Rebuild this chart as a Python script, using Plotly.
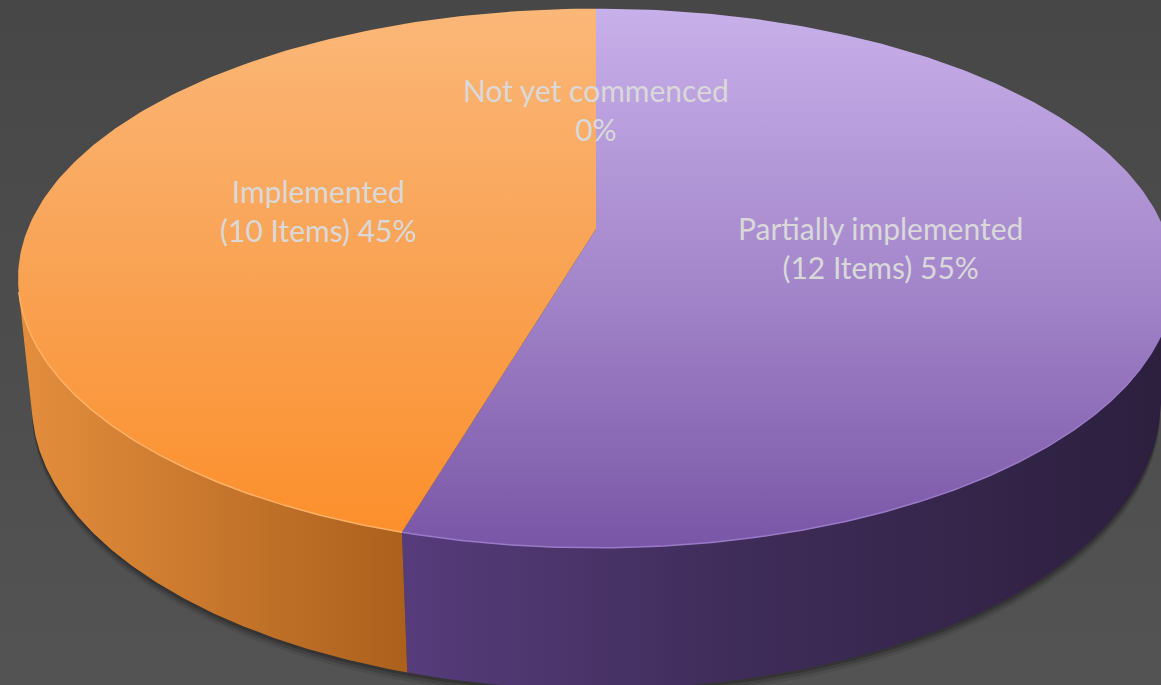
import numpy as np
import plotly.graph_objects as go

# ---------------- data ----------------
labels = ["Not yet commenced", "Partially implemented", "Implemented"]
items = [0, 12, 10]
show_items = [False, True, True]

# ---------------- styles ----------------
top_scales = [
    [[0, "#a5a5a5"], [1, "#7f7f7f"]],
    [[0, "#c8b0ea"], [0.5, "#a487cb"], [1, "#7956a6"]],
    [[0, "#fbb778"], [0.5, "#f9a253"], [1, "#fc8e29"]],
]
wall_scales = [
    [[0, "#7f7f7f"], [1, "#5f5f5f"]],
    [[0, "#563c7b"], [0.45, "#3e2c58"], [1, "#2c1f3d"]],
    [[0, "#e48e3d"], [1, "#ab601c"]],
]
edge_colors = ["#bbbbbb", "#9a7bc9", "#ffb266"]
label_color = "#d9d9d9"

W, H = 1161, 685
CX, CY = 596, 229          # projected pie centre (px)
FOCAL = 2765.0             # perspective focal length (px)
DIST = 4.866               # camera distance (pie radii)
ELEV = np.radians(27.3)    # viewing elevation
THICK = 0.25               # pie thickness (pie radii)
LABEL_R = 0.5

S, C = np.sin(ELEV), np.cos(ELEV)


def project(X, Y, Z):
    v = Y * S + Z * C
    w = Y * C - Z * S
    return CX + FOCAL * X / (DIST + w), CY - FOCAL * v / (DIST + w)


def circle(a, z):
    # a: angle clockwise from 12 o'clock
    t = np.pi / 2 - a
    return project(np.cos(t), np.sin(t), z)


fig = go.Figure()

# background
fig.add_trace(go.Scatter(
    x=[0, W, W, 0, 0], y=[0, 0, H, H, 0], mode="lines", line=dict(width=0),
    fill="toself", fillgradient=dict(type="vertical", start=0, stop=H,
                                     colorscale=[[0, "#474747"], [1, "#535353"]]),
    hoverinfo="skip", showlegend=False))

# shadow under the pie
full = np.linspace(0, 2 * np.pi, 400)
bx, by = circle(full, -THICK)
for off, op in [(9, 0.10), (6, 0.16), (3, 0.25)]:
    fig.add_trace(go.Scatter(
        x=bx, y=by + off, mode="lines", line=dict(width=0),
        fill="toself", fillcolor=f"rgba(15,15,15,{op})",
        hoverinfo="skip", showlegend=False))

total = sum(items)
fracs = [v / total for v in items]
cum = np.concatenate([[0], np.cumsum(fracs)])
t0 = np.arcsin(1 / (DIST * C))
vis_lo, vis_hi = np.pi / 2 + t0, 3 * np.pi / 2 - t0

# side walls
for i, f in enumerate(fracs):
    if f <= 0:
        continue
    a0, a1 = cum[i] * 2 * np.pi, cum[i + 1] * 2 * np.pi
    lo, hi = max(a0, vis_lo), min(a1, vis_hi)
    if hi <= lo:
        continue
    a = np.linspace(lo, hi, 200)
    tx, ty = circle(a, 0)
    bx2, by2 = circle(a[::-1], -THICK)
    xs = np.concatenate([tx, bx2, tx[:1]])
    ys = np.concatenate([ty, by2, ty[:1]])
    fig.add_trace(go.Scatter(
        x=xs, y=ys, mode="lines", line=dict(width=0), fill="toself",
        fillgradient=dict(type="horizontal", start=float(xs.min()), stop=float(xs.max()),
                          colorscale=wall_scales[i]),
        hoverinfo="skip", showlegend=False))

# top faces
ytop = float(circle(np.array([0.0]), 0)[1][0])
ybot = float(circle(np.array([np.pi]), 0)[1][0])
for i, f in enumerate(fracs):
    if f <= 0:
        continue
    a0, a1 = cum[i] * 2 * np.pi, cum[i + 1] * 2 * np.pi
    a = np.linspace(a0, a1, max(int(400 * f), 20))
    ax, ay = circle(a, 0)
    cx0, cy0 = project(0.0, 0.0, 0.0)
    xs = np.concatenate([[cx0], ax, [cx0]])
    ys = np.concatenate([[cy0], ay, [cy0]])
    fig.add_trace(go.Scatter(
        x=xs, y=ys, mode="lines", line=dict(width=0), fill="toself",
        fillgradient=dict(type="vertical", start=ytop, stop=ybot, colorscale=top_scales[i]),
        hoverinfo="skip", showlegend=False))
    # front edge highlight
    lo, hi = max(a0, vis_lo), min(a1, vis_hi)
    if hi > lo:
        e = np.linspace(lo, hi, 200)
        ex, ey = circle(e, 0)
        fig.add_trace(go.Scatter(
            x=ex, y=ey, mode="lines", line=dict(width=1.5, color=edge_colors[i]),
            hoverinfo="skip", showlegend=False))

# data labels
for i, f in enumerate(fracs):
    mid = (cum[i] + cum[i + 1]) * np.pi
    t = np.pi / 2 - mid
    lx, ly = project(LABEL_R * np.cos(t), LABEL_R * np.sin(t), 0)
    pct = f"{round(f * 100):.0f}%"
    second = f"({items[i]} Items) {pct}" if show_items[i] else pct
    fig.add_annotation(
        x=float(lx), y=float(ly), xref="x", yref="y", showarrow=False,
        text=f"{labels[i]}<br>{second}", align="center",
        font=dict(family="Lato, Liberation Sans, sans-serif", size=30, color=label_color))

fig.update_layout(
    width=W, height=H, margin=dict(l=0, r=0, t=0, b=0),
    paper_bgcolor="#4a4a4a", plot_bgcolor="#4a4a4a",
    xaxis=dict(range=[0, W], visible=False, fixedrange=True),
    yaxis=dict(range=[H, 0], visible=False, fixedrange=True),
    showlegend=False,
)

fig.write_html("out.html", config={"displayModeBar": False},
               post_script="document.body.style.margin='0px';document.body.style.overflow='hidden';")
